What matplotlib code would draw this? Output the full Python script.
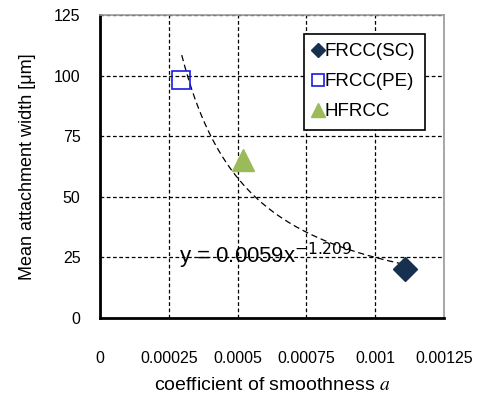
import numpy as np
import matplotlib
matplotlib.use("Agg")
import matplotlib.pyplot as plt
from matplotlib.lines import Line2D

plt.rcParams['font.family'] = ['Liberation Sans', 'DejaVu Sans']
plt.rcParams['mathtext.fontset'] = 'stix'

series = ["FRCC(SC)", "FRCC(PE)", "HFRCC"]
x_vals = [0.00111, 0.000294, 0.00052]
y_vals = [20.3, 98.0, 65.0]
fit_coef = 0.0059
fit_exp = -1.209
fit_range = [0.000297, 0.00110]
xticks = [0, 0.00025, 0.0005, 0.00075, 0.001, 0.00125]
xtick_labels = ["0", "0.00025", "0.0005", "0.00075", "0.001", "0.00125"]
yticks = [0, 25, 50, 75, 100, 125]

fig = plt.figure(figsize=(4.8, 3.96), dpi=100)
ax = fig.add_axes([100/480, 1-318/396, 344/480, 303/396])

ax.set_xlim(0, 0.00125)
ax.set_ylim(0, 125)
ax.set_xticks(xticks)
ax.set_xticklabels(xtick_labels)
ax.set_yticks(yticks)
ax.tick_params(axis='both', length=0, labelsize=11.5)
ax.tick_params(axis='x', pad=24)
ax.tick_params(axis='y', pad=14)
ax.grid(True, color='black', linestyle=(0, (3, 2)), linewidth=0.9)
ax.set_axisbelow(True)
for s in ['top', 'right']:
    ax.spines[s].set_color('#999999')
    ax.spines[s].set_linewidth(1.2)
for s in ['left', 'bottom']:
    ax.spines[s].set_color('black')
    ax.spines[s].set_linewidth(2)

# trend line
xf = np.linspace(fit_range[0], fit_range[1], 200)
ax.plot(xf, fit_coef * xf ** fit_exp, color='black', linestyle=(0, (5, 3)), linewidth=0.9, zorder=3)

ax.plot(x_vals[0], y_vals[0], marker='D', color='#17304F', markersize=12.5, linestyle='none', zorder=4)
ax.plot(x_vals[1], y_vals[1], marker='s', markerfacecolor='none', markeredgecolor='#1A1AE6',
        markeredgewidth=1.2, markersize=12.5, linestyle='none', zorder=4)
ax.plot(x_vals[2], y_vals[2], marker='^', color='#9BBB59', markersize=16, linestyle='none', zorder=4)

ax.text(0.000288, 25.7, r"y = 0.0059x$^{-1.209}$", fontsize=16, va='center', ha='left', zorder=5,
        math_fontfamily='dejavusans')

handles = [
    Line2D([], [], marker='D', color='#17304F', markersize=7.5, linestyle='none'),
    Line2D([], [], marker='s', markerfacecolor='none', markeredgecolor='#1A1AE6',
           markeredgewidth=1.2, markersize=9, linestyle='none'),
    Line2D([], [], marker='^', color='#9BBB59', markersize=10, linestyle='none'),
]
leg = ax.legend(handles, series, loc='upper left', bbox_to_anchor=((304-100)/344, (318-34)/303),
                fontsize=13.5, frameon=True, fancybox=False, edgecolor='black', framealpha=1,
                handlelength=0.5, handletextpad=0.1, borderpad=0.5, labelspacing=0.68,
                borderaxespad=0)
leg.get_frame().set_linewidth(1.2)

ax.set_ylabel("Mean attachment width [\u03bcm]", fontsize=13, labelpad=13)
ax.set_xlabel(r"coefficient of smoothness $\mathit{a}$", fontsize=14, labelpad=8)

fig.savefig("out.png", dpi=100)
